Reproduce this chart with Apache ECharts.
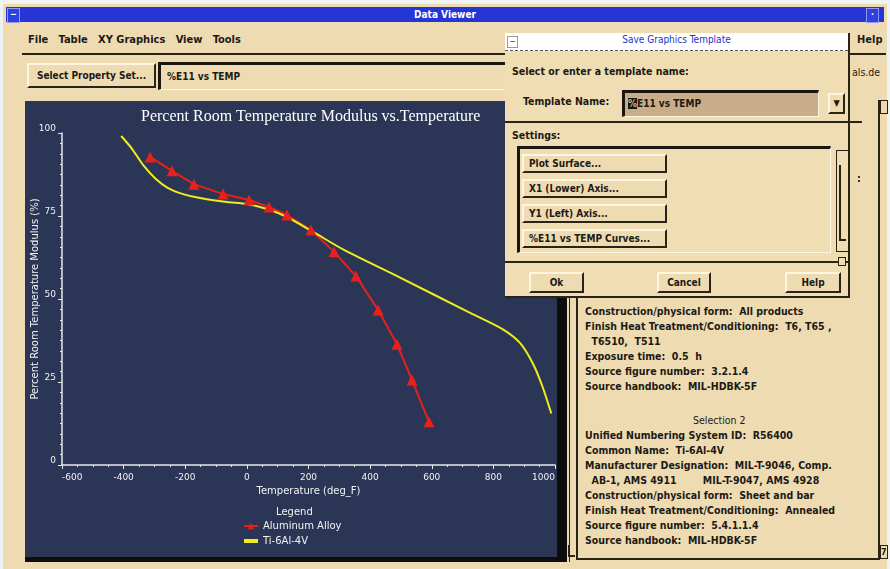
<!DOCTYPE html>
<html>
<head>
<meta charset="utf-8">
<script src="https://cdn.jsdelivr.net/npm/echarts@6/dist/echarts.min.js"></script>
<style>
  html,body{margin:0;padding:0;}
  body{width:890px;height:569px;overflow:hidden;background:#eef3f6;position:relative;
       font-family:"DejaVu Sans Condensed","DejaVu Sans",sans-serif;font-weight:bold;color:#1c1a16;}
  .abs{position:absolute;}
  #win{left:3px;top:4px;width:884px;height:565px;background:#efdbb1;}
  #titlebar{left:6px;top:7px;width:878px;height:15px;background:#2535d6;color:#fff;font-size:10px;
            line-height:15px;text-align:center;}
  .tbtn{width:11px;height:13px;top:8px;background:#2f3fe0;border:1px solid #8f9af0;color:#fff;font-size:9px;line-height:11px;text-align:center;}
  .menu{font-size:11px;top:33px;}
  .bevel{background:#efdbb1;border-top:2px solid #fff6e0;border-left:2px solid #fff6e0;border-right:2px solid #2a2418;border-bottom:2px solid #2a2418;box-sizing:border-box;}
  .sunk{border-top:3px solid #1a1610;border-left:3px solid #1a1610;border-right:1px solid #fff6e0;border-bottom:1px solid #fff6e0;box-sizing:border-box;}
  #chart{left:25px;top:101px;width:532px;height:458px;background:#2b3656;}
  #dialog{left:505px;top:33px;width:345px;height:265px;background:#f1ddb3;border-right:2px solid #2a2418;border-bottom:2px solid #2a2418;box-sizing:border-box;z-index:10;}
  .dtxt{font-size:10.5px;}
  .lbtn{left:17px;width:145px;height:19px;font-size:10px;line-height:15px;padding-left:5px;}
  .info{left:585px;font-size:10.5px;line-height:15px;white-space:pre;}
</style>
</head>
<body>
<div id="win" class="abs"></div>
<div id="titlebar" class="abs">Data Viewer</div>
<div class="abs tbtn" style="left:7px;">−</div>
<div class="abs tbtn" style="left:866px;">·</div>

<div class="abs menu" style="left:28px;">File&nbsp;&nbsp; Table&nbsp;&nbsp; XY Graphics&nbsp;&nbsp; View&nbsp;&nbsp; Tools</div>
<div class="abs menu" style="left:857px;">Help</div>
<div class="abs" style="left:22px;top:53px;width:864px;height:2px;background:#2a2418;"></div>

<div class="abs bevel" style="left:27px;top:63px;width:129px;height:25px;font-size:10px;line-height:21px;text-align:center;">Select Property Set...</div>
<div class="abs sunk" style="left:158px;top:62px;width:352px;height:28px;font-size:10px;line-height:24px;padding-left:6px;background:#efdbb1;">%E11 vs TEMP</div>
<div class="abs" style="left:852px;top:66px;font-size:10.5px;font-weight:normal;">als.de</div>

<div id="chart" class="abs"></div>
<div class="abs" style="left:557px;top:101px;width:10px;height:461px;background:#0d0d0d;"></div>
<div class="abs" style="left:25px;top:557px;width:542px;height:5px;background:#0d0d0d;"></div>

<!-- right info panel -->
<div class="abs" style="left:569px;top:100px;width:4px;height:462px;background:#efdbb1;border-left:1px solid #2a2418;"></div>
<div class="abs" style="left:576px;top:295px;width:2px;height:265px;background:#2a2418;"></div>
<div class="abs" style="left:576px;top:558px;width:304px;height:2px;background:#2a2418;"></div>
<div class="abs" style="left:878px;top:100px;width:2px;height:460px;background:#2a2418;"></div>
<div class="abs" style="left:880px;top:100px;width:8px;height:14px;border:1px solid #2a2418;box-sizing:border-box;"></div>
<div class="abs" style="left:880px;top:545px;width:8px;height:14px;border:1px solid #2a2418;box-sizing:border-box;font-size:9px;line-height:12px;">7</div>
<div class="abs" style="left:568px;top:545px;width:7px;height:12px;border-left:1px solid #2a2418;border-bottom:2px solid #2a2418;box-sizing:border-box;"></div>

<div class="abs info" style="top:304px;">Construction/physical form:  All products
Finish Heat Treatment/Conditioning:  T6, T65 ,
  T6510,  T511
Exposure time:  0.5  h
Source figure number:  3.2.1.4
Source handbook:  MIL-HDBK-5F</div>
<div class="abs info" style="top:413px;left:693px;font-weight:normal;">Selection 2</div>
<div class="abs info" style="top:428px;">Unified Numbering System ID:  R56400
Common Name:  Ti-6Al-4V
Manufacturer Designation:  MIL-T-9046, Comp.
  AB-1, AMS 4911        MIL-T-9047, AMS 4928
Construction/physical form:  Sheet and bar
Finish Heat Treatment/Conditioning:  Annealed
Source figure number:  5.4.1.1.4
Source handbook:  MIL-HDBK-5F</div>

<!-- dialog -->
<div id="dialog" class="abs">
  <div class="abs" style="left:0;top:0;width:343px;height:17px;background:#ffffff;border-bottom:1px dashed #555;"></div>
  <div class="abs" style="left:2px;top:3px;width:9px;height:10px;border:1px solid #999;font-size:8px;line-height:9px;text-align:center;color:#666;">−</div>
  <div class="abs" style="left:0;top:1px;width:343px;text-align:center;font-size:10px;color:#2233cc;font-weight:normal;">Save Graphics Template</div>
  <div class="abs dtxt" style="left:7px;top:32px;">Select or enter a template name:</div>
  <div class="abs dtxt" style="left:18px;top:62px;">Template Name:</div>
  <div class="abs sunk" style="left:117px;top:57px;width:197px;height:27px;background:#c7ad88;font-size:10px;line-height:22px;padding-left:3px;"><span style="background:#1a1610;color:#c7ad88;">%</span>E11 vs TEMP</div>
  <div class="abs bevel" style="left:323px;top:60px;width:17px;height:21px;font-size:9px;line-height:16px;text-align:center;">▼</div>
  <div class="abs" style="left:0;top:88px;width:357px;height:2px;background:#2a2418;"></div>
  <div class="abs dtxt" style="left:7px;top:96px;">Settings:</div>
  <div class="abs sunk" style="left:12px;top:113px;width:314px;height:107px;background:#f1ddb3;"></div>
  <div class="abs bevel lbtn" style="top:121px;">Plot Surface...</div>
  <div class="abs bevel lbtn" style="top:146px;">X1 (Lower) Axis...</div>
  <div class="abs bevel lbtn" style="top:171px;">Y1 (Left) Axis...</div>
  <div class="abs bevel lbtn" style="top:196px;">%E11 vs TEMP Curves...</div>
  <div class="abs" style="left:331px;top:117px;width:14px;height:102px;border:1px solid #2a2418;box-sizing:border-box;"></div>
  <div class="abs" style="left:334px;top:132px;width:5px;height:74px;border-left:2px solid #2a2418;border-bottom:2px solid #2a2418;"></div>
  <div class="abs" style="left:0;top:228px;width:345px;height:2px;background:#2a2418;"></div>
  <div class="abs" style="left:333px;top:224px;width:6px;height:7px;border:1px solid #2a2418;background:#f1ddb3;"></div>
  <div class="abs bevel" style="left:24px;top:239px;width:55px;height:21px;font-size:10px;line-height:17px;text-align:center;">Ok</div>
  <div class="abs bevel" style="left:152px;top:239px;width:54px;height:21px;font-size:10px;line-height:17px;text-align:center;">Cancel</div>
  <div class="abs bevel" style="left:280px;top:239px;width:56px;height:21px;font-size:10px;line-height:17px;text-align:center;">Help</div>
</div>
<div class="abs" style="left:857px;top:172px;font-size:11px;">:</div>

<script>
const seriesNames = ['Aluminum Alloy', 'Ti-6Al-4V'];
const aluminumTemp = [-314, -243, -172, -77, 7, 72, 130, 208, 283, 354, 426, 487, 536, 591];
const aluminumModulus = [92.8, 88.6, 84.6, 81.6, 79.8, 77.7, 75.3, 70.8, 64.2, 56.9, 46.7, 36.4, 25.6, 13.0];
const titaniumTemp = [-408, -374, -337, -298, -257, -207, -152, -64, 0, 65, 130, 215, 315, 494, 718, 828, 887, 929, 961, 988];
const titaniumModulus = [99.1, 95.4, 90.4, 86.4, 83.5, 81.6, 80.4, 79.2, 78.6, 77.1, 74.7, 70.2, 64.8, 56.6, 46.1, 41.0, 36.7, 30.4, 23.2, 15.5];
const xRange = [-600, 1000];
const yRange = [0, 100];

const chart = echarts.init(document.getElementById('chart'), null, {renderer: 'canvas'});
const labelStyle = {color: '#f2f2f2', fontSize: 9, fontFamily: 'DejaVu Sans'};
chart.setOption({
  backgroundColor: '#2b3656',
  animation: false,
  title: [
    {text: 'Percent Room Temperature Modulus vs.Temperature', left: 111, top: 3,
     textStyle: {color: '#ffffff', fontSize: 16, fontWeight: 'normal', fontFamily: 'Liberation Serif'}},
    {text: 'Legend', left: 246, top: 401,
     textStyle: {color: '#f2f2f2', fontSize: 10, fontWeight: 'normal', fontFamily: 'DejaVu Sans'}}
  ],
  grid: {left: 37, right: 2, top: 32, bottom: 94, containLabel: false, outerBoundsMode: 'none'},
  legend: {
    orient: 'vertical', left: 213, top: 415, itemGap: 5, itemWidth: 14, itemHeight: 8,
    data: [
      {name: seriesNames[0]},
      {name: seriesNames[1], icon: 'path://M0,0h14v4h-14z'}
    ],
    textStyle: {color: '#f2f2f2', fontSize: 10, fontFamily: 'DejaVu Sans'}
  },
  xAxis: {
    type: 'value', min: xRange[0], max: xRange[1], interval: 200,
    name: 'Temperature (deg_F)', nameLocation: 'middle', nameGap: 21, nameMoveOverlap: false,
    nameTextStyle: {color: '#f2f2f2', fontSize: 10, fontFamily: 'DejaVu Sans'},
    axisLine: {onZero: false, lineStyle: {color: '#e8e8e8', width: 1.5}},
    axisTick: {show: true, length: 4, lineStyle: {color: '#e8e8e8'}},
    minorTick: {show: true, splitNumber: 4, length: 2, lineStyle: {color: '#e8e8e8'}},
    splitLine: {show: false},
    axisLabel: Object.assign({margin: 8, alignMinLabel: 'left', alignMaxLabel: 'right',
                              formatter: v => String(v)}, labelStyle)
  },
  yAxis: {
    type: 'value', min: yRange[0], max: yRange[1], interval: 25,
    name: 'Percent Room Temperature Modulus (%)', nameLocation: 'middle', nameGap: 22, nameMoveOverlap: false,
    nameTextStyle: {color: '#f2f2f2', fontSize: 10, fontFamily: 'DejaVu Sans'},
    axisLine: {show: true, onZero: false, lineStyle: {color: '#e8e8e8', width: 1.5}},
    axisTick: {show: true, length: 4, lineStyle: {color: '#e8e8e8'}},
    minorTick: {show: true, splitNumber: 8, length: 2, lineStyle: {color: '#e8e8e8'}},
    splitLine: {show: false},
    axisLabel: Object.assign({margin: 6, verticalAlign: 'bottom'}, labelStyle)
  },
  series: [
    {
      name: seriesNames[0], type: 'line',
      data: aluminumTemp.map((t, i) => [t, aluminumModulus[i]]),
      symbol: 'triangle', symbolSize: 11,
      itemStyle: {color: '#e8201c'},
      lineStyle: {color: '#e8201c', width: 2}
    },
    {
      name: seriesNames[1], type: 'line',
      data: titaniumTemp.map((t, i) => [t, titaniumModulus[i]]),
      symbol: 'none', smooth: 0.25,
      itemStyle: {color: '#eeee1a'},
      lineStyle: {color: '#eeee1a', width: 2}
    }
  ]
});
</script>
</body>
</html>
